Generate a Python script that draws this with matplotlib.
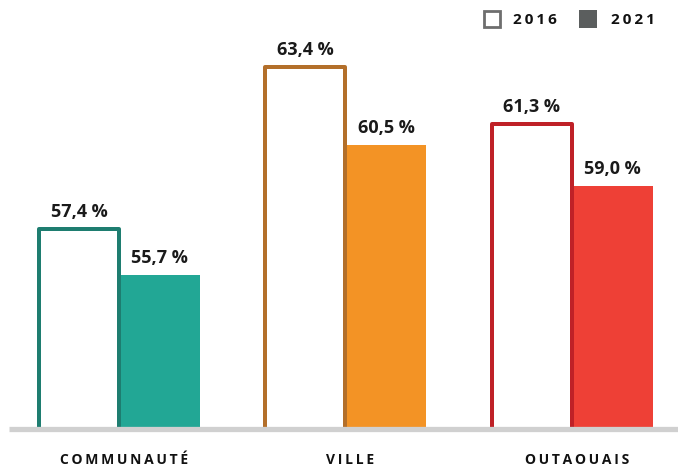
import matplotlib
matplotlib.use("Agg")
import matplotlib.pyplot as plt
from matplotlib.patches import Rectangle

categories = ["COMMUNAUTÉ", "VILLE", "OUTAOUAIS"]
values_2016 = [57.4, 63.4, 61.3]
values_2021 = [55.7, 60.5, 59.0]
series_labels = ["2016", "2021"]

outline_colors = ["#1E7D70", "#B36F2A", "#BF2127"]
fill_colors = ["#22A795", "#F39325", "#EE4036"]

FONT = ["Open Sans", "DejaVu Sans"]

def spaced(s, sep="\u2009"):
    return sep.join(list(s))

fig = plt.figure(figsize=(6.78, 4.68), dpi=100)
W, H = 678, 468
base_px = 429
ax = fig.add_axes([0, (H - base_px) / H, 1, base_px / H])

px_per_unit = 226.5
x0_px = 119
ax.set_xlim((0 - x0_px) / px_per_unit, (W - x0_px) / px_per_unit)
ymin = 50.0
ymax = ymin + base_px / 27.0
ax.set_ylim(ymin, ymax)
ax.axis("off")

bw_fill = 81 / px_per_unit
bw_out = 80 / px_per_unit
lw_pt = 4 * 72 / 100

xs = list(range(len(categories)))
for i, x in enumerate(xs):
    # 2021 filled
    ax.bar(x + bw_fill / 2, values_2021[i] - ymin, bottom=ymin, width=bw_fill,
           color=fill_colors[i], edgecolor="none", zorder=2)
    # 2016 outlined
    ax.bar(x - bw_out / 2, values_2016[i] - ymin, bottom=ymin, width=bw_out,
           facecolor="white", edgecolor=outline_colors[i], linewidth=lw_pt,
           joinstyle="round", zorder=3)
    for xv, v in [(x - bw_out / 2, values_2016[i]), (x + bw_fill / 2, values_2021[i])]:
        ax.annotate(f"{v:.1f} %".replace(".", ","), (xv, v), xytext=(0, 6),
                    textcoords="offset points", ha="center", va="bottom",
                    fontsize=13, fontweight="bold", color="#1a1a1a",
                    family=FONT, zorder=5)
    fig.text((x0_px + x * px_per_unit + 5) / W, (H - 460) / H, spaced(categories[i]),
             ha="center", va="center", fontsize=10, fontweight="bold",
             color="#111111", family=FONT)

# baseline
ax.plot([-0.485, 2.6], [ymin, ymin], color="#D0D0D0", linewidth=3.8,
        solid_capstyle="butt", zorder=4, clip_on=False)

# legend
def fig_rect(xp, yp, wp, hp, **kw):
    fig.patches.append(Rectangle((xp / W, (H - yp - hp) / H), wp / W, hp / H,
                                 transform=fig.transFigure, figure=fig, **kw))

fig_rect(484, 11, 16, 16, facecolor="white", edgecolor="#6E6E6E", linewidth=2.0)
fig.text(513 / W, (H - 19.5) / H, spaced(series_labels[0]), ha="left", va="center",
         fontsize=11, fontweight="bold", color="#111111", family=FONT)
fig_rect(579, 10, 18, 18, facecolor="#5B5E5E", edgecolor="none")
fig.text(611 / W, (H - 19.5) / H, spaced(series_labels[1]), ha="left", va="center",
         fontsize=11, fontweight="bold", color="#111111", family=FONT)

fig.savefig("out.png", dpi=100)
